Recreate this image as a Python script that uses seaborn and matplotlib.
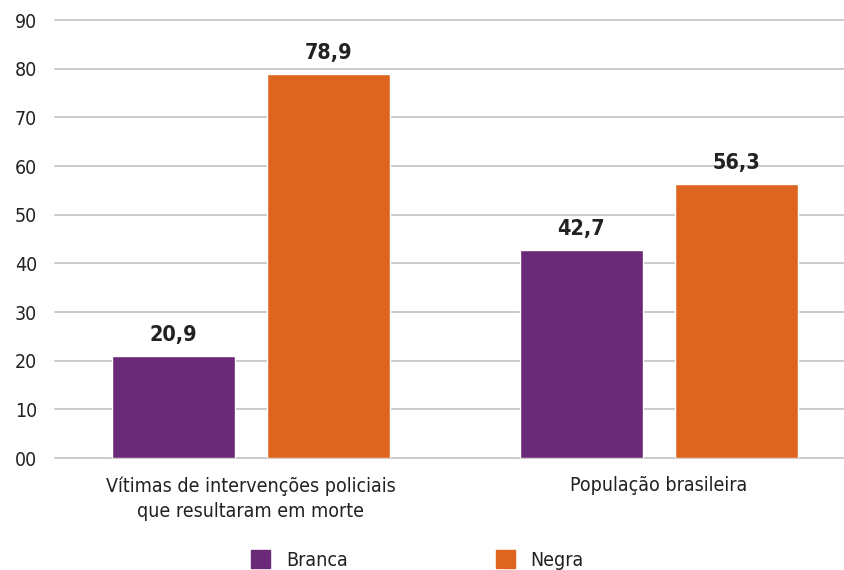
import matplotlib
matplotlib.use("Agg")
import matplotlib.pyplot as plt
import seaborn as sns
import pandas as pd
from matplotlib.patches import Patch

categories = ["Vítimas de intervenções policiais\nque resultaram em morte", "População brasileira"]
groups = ["Branca", "Negra"]
branca = [20.9, 42.7]
negra = [78.9, 56.3]
yticks = [0, 10, 20, 30, 40, 50, 60, 70, 80, 90]
ytick_labels = ["00", "10", "20", "30", "40", "50", "60", "70", "80", "90"]
colors = ["#6A2A78", "#DE651F"]

df = pd.DataFrame({
    "categoria": categories * 2,
    "raca": [groups[0]] * 2 + [groups[1]] * 2,
    "valor": branca + negra,
})

sns.set_theme(style="white")
plt.rcParams["font.family"] = ["DejaVu Sans"]
plt.rcParams["font.stretch"] = "condensed"

fig = plt.figure(figsize=(8.45, 5.7), dpi=100)
ax = fig.add_axes([55 / 845, 1 - 458 / 570, 790 / 845, 438 / 570])

sns.barplot(data=df, x="categoria", y="valor", hue="raca", palette=colors,
            width=0.76, gap=0.21, ax=ax, legend=False, saturation=1)

for cont in ax.containers:
    ax.bar_label(cont, labels=[f"{v:.1f}".replace(".", ",") for v in cont.datavalues],
                 padding=8, fontsize=15.5, fontweight="bold", color="#222222")

ax.set_ylim(0, 90)
ax.set_xlim(-0.48, 1.456)
ax.set_yticks(yticks)
ax.set_yticklabels(ytick_labels)
ax.yaxis.grid(True, color="#C9C5C1", linewidth=1.3)
for gl in ax.get_ygridlines():
    gl.set_clip_on(False)
ax.set_axisbelow(True)
for s in ax.spines.values():
    s.set_visible(False)
ax.tick_params(axis="y", labelsize=14, colors="#222222", length=0, pad=13)
ax.tick_params(axis="x", labelsize=14, colors="#222222", length=0, pad=13)
plt.setp(ax.get_xticklabels(), linespacing=1.45)
ax.set_xlabel("")
ax.set_ylabel("")

handles = [Patch(color=c, label=g) for c, g in zip(colors, groups)]
fig.legend(handles=handles, loc="center", bbox_to_anchor=(0.494, 10 / 570), ncol=2,
           frameon=False, fontsize=14, handlelength=1.0, handleheight=1.0,
           columnspacing=7.6, handletextpad=0.8, labelcolor="#222222")

fig.savefig("out.png", dpi=100)
